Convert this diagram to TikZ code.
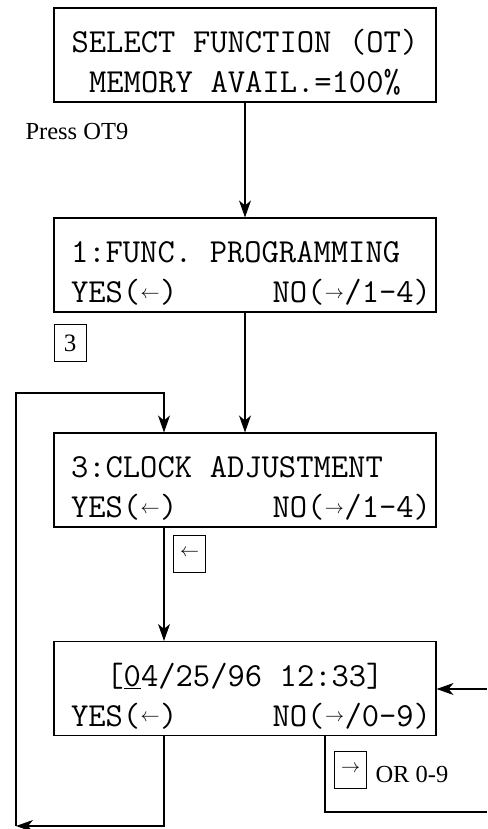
\documentclass[tikz,border=0pt]{standalone}
\usepackage{fontspec}
\setmainfont{Liberation Serif}
\usepackage{graphicx}
\usepackage{tikz}
\usetikzlibrary{arrows.meta, positioning}
\newcommand{\lkey}{\makebox[20pt]{\raisebox{4.5pt}{\resizebox{19pt}{!}{$\leftarrow$}}}}
\newcommand{\rkey}{\makebox[20pt]{\raisebox{4.5pt}{\resizebox{19pt}{!}{$\rightarrow$}}}}
\newcommand{\keyrow}[1]{\makebox[360pt][l]{#1}}
\newcommand{\lcdgap}{\hspace*{17.64pt}}

\begin{document}
\begin{tikzpicture}[x=1pt, y=-1pt, line width=1.1pt,
    screen/.style={draw, minimum width=382pt, minimum height=94pt,
      text width=348pt, inner xsep=17pt,
      font=\fontsize{33.6}{40}\selectfont\ttfamily,
      execute at begin node={\rule{0pt}{38pt}}},
    keybox/.style={draw, minimum width=32pt, minimum height=37pt,
      inner sep=0pt, line width=0.9pt, font=\fontsize{25}{25}\selectfont},
    note/.style={font=\fontsize{24.5}{24.5}\selectfont, inner sep=0pt},
    >={Stealth[length=17pt, width=12pt, inset=5pt]}]
    \useasboundingbox (0,0) rectangle (487,829);
    % --- Screens ---
    \node[screen, align=center] (select) at (245,55)
      {SELECT\lcdgap FUNCTION\lcdgap (OT)\\MEMORY\lcdgap AVAIL.=100\%};
    \node[screen, align=left] (func) at (245,265)
      {1:FUNC.\lcdgap PROGRAMMING\\\keyrow{YES(\lkey)\hfill NO(\rkey/1-4)}};
    \node[screen, align=left] (clock) at (245,480)
      {3:CLOCK\lcdgap ADJUSTMENT\\\keyrow{YES(\lkey)\hfill NO(\rkey/1-4)}};
    \node[screen, align=center] (date) at (245,688.5)
      {[\underline{0}4/25/96\lcdgap 12:33]\\\keyrow{YES(\lkey)\hfill NO(\rkey/0-9)}};
    % --- Keys ---
    \node[note, anchor=west] (press) at (25,131.5) {Press OT9};
    \node[keybox] (k3) at (70,343) {3};
    \node[keybox] (kyes) at (189.5,553.5) {\resizebox{19pt}{!}{$\leftarrow$}};
    \node[keybox] (kno) at (350.5,769.5) {\resizebox{19pt}{!}{$\rightarrow$}};
    \node[note, anchor=west] (or) at (375,774) {OR 0-9};
    % Corners of the loops
    \coordinate (yescol) at (164,0);
    \coordinate (nocol) at (325,0);
    \coordinate (back) at (16,826);
    \coordinate (loop) at (16,393);
    \coordinate (rin) at (487,689);
    \coordinate (rout) at (487,812);
    % --- Connectors ---
    \draw[->] (select) -- (func);
    \draw[->] (func) -- (clock);
    \draw[->] (clock.south -| yescol) -- (date.north -| yescol);
    \draw[->] (date.south -| yescol) |- (back);
    \draw[->] (back) -- (loop) -| (clock.north -| yescol);
    \draw[->] (rin) -- (rin -| date.east);
    \draw (date.south -| nocol) |- (rout);
\end{tikzpicture}
\end{document}
